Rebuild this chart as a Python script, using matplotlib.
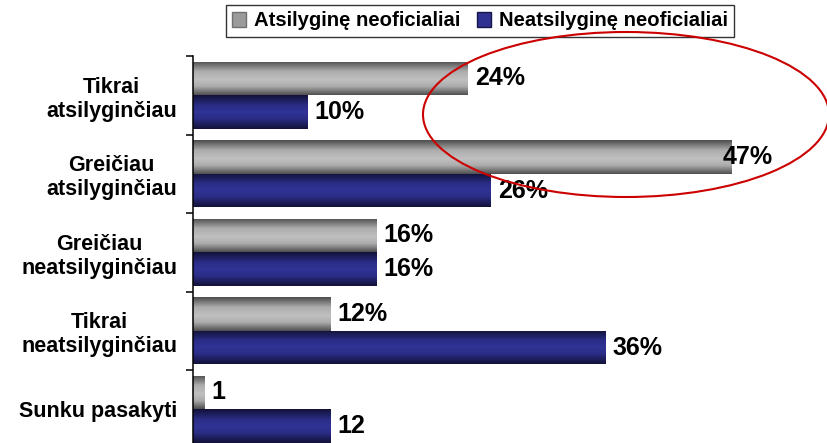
import matplotlib
matplotlib.use("Agg")
import matplotlib.pyplot as plt
import numpy as np
from matplotlib.colors import LinearSegmentedColormap
from matplotlib.patches import Ellipse, Patch

plt.rcParams['font.family'] = ['Liberation Sans', 'DejaVu Sans']

# data
categories = ["Tikrai\natsilyginčiau", "Greičiau\natsilyginčiau",
              "Greičiau\nneatsilyginčiau", "Tikrai\nneatsilyginčiau",
              "Sunku pasakyti"]
series_names = ["Atsilyginę neoficialiai", "Neatsilyginę neoficialiai"]
paid = [24, 47, 16, 12, 1]
not_paid = [10, 26, 16, 36, 12]
paid_labels = ["24%", "47%", "16%", "12%", "1"]
not_paid_labels = ["10%", "26%", "16%", "36%", "12"]

W, H = 828, 443
fig = plt.figure(figsize=(W / 100, H / 100), dpi=100)
ax = fig.add_axes([193 / W, (H - 448.5) / H, 630 / W, 392.5 / H])

gray_cmap = LinearSegmentedColormap.from_list(
    "g", [(0, "#4e4e4e"), (0.3, "#adadad"), (0.55, "#c0c0c0"), (0.75, "#acacac"), (1, "#505050")])
blue_cmap = LinearSegmentedColormap.from_list(
    "b", [(0, "#121238"), (0.3, "#2a2c86"), (0.5, "#313396"), (0.7, "#2a2c86"), (1, "#121238")])
grad = np.linspace(0, 1, 64).reshape(-1, 1)

h = 0.427
y = np.arange(len(categories))


def gradient_bars(vals, offset, cmap):
    bars = ax.barh(y + offset, vals, height=h, color="none", edgecolor="none")
    for b in bars:
        x0, y0 = b.get_x(), b.get_y()
        im = ax.imshow(grad, cmap=cmap, aspect="auto", interpolation="bilinear",
                       extent=(x0, x0 + b.get_width(), y0 + h, y0), zorder=2)
        im.set_clip_path(b)
    return bars


gradient_bars(paid, -h / 2, gray_cmap)
gradient_bars(not_paid, h / 2, blue_cmap)

ax.set_xlim(0, 55)
ax.set_ylim(len(categories) - 0.5, -0.5)

# value labels
vmax = max(paid + not_paid)
for vals, labels, off in [(paid, paid_labels, -h / 2), (not_paid, not_paid_labels, h / 2)]:
    for i, (v, lab) in enumerate(zip(vals, labels)):
        dx = -9 if v == vmax else 7
        ax.annotate(lab, (v, i + off), xytext=(dx * 0.72, 0), textcoords="offset points",
                    ha="left", va="center", fontsize=18, fontweight="bold", zorder=4)

# axes styling
for s in ["top", "right", "bottom"]:
    ax.spines[s].set_visible(False)
ax.spines["left"].set_linewidth(1.1)
ax.set_xticks([])
ax.set_yticks(y)
ax.set_yticklabels(categories, fontsize=15.5, fontweight="bold", multialignment="center")
ax.tick_params(axis="y", which="major", length=0, pad=11.5)
ax.set_yticks(np.arange(len(categories) + 1) - 0.5, minor=True)
ax.tick_params(axis="y", which="minor", length=5, width=1.1, direction="out")

# legend
handles = [Patch(facecolor="#9a9a9a", edgecolor="#707070"),
           Patch(facecolor="#2e3192", edgecolor="#15154a")]
leg = fig.legend(handles, series_names, loc="center", ncol=2,
                 bbox_to_anchor=(480 / W, 1 - 21 / H),
                 prop={"weight": "bold", "size": 14.6}, frameon=True, fancybox=False,
                 handlelength=0.7, handleheight=0.7, handletextpad=0.4,
                 columnspacing=0.8, borderpad=0.3, borderaxespad=0)
leg.get_frame().set_edgecolor("black")
leg.get_frame().set_linewidth(1.0)

# red highlight ring
ring = Ellipse((626 / W, 1 - 114.5 / H), 406 / W, 165 / H, transform=fig.transFigure,
               fill=False, edgecolor="#cc0000", linewidth=1.5, zorder=10)
fig.patches.append(ring)

fig.savefig("out.png", dpi=100)
